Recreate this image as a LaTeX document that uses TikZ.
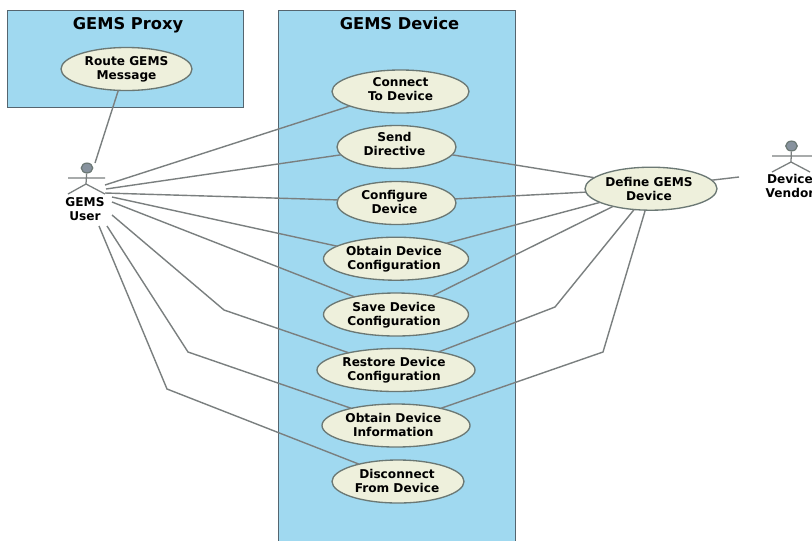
\documentclass[tikz,border=0pt]{standalone}
\usepackage{fontspec}
\setmainfont{DejaVu Sans}
\definecolor{boxfill}{HTML}{A0D9F0}
\definecolor{boxline}{HTML}{55656F}
\definecolor{ellfill}{HTML}{EEF0DC}
\definecolor{ellline}{HTML}{6B7874}
\definecolor{conn}{HTML}{7A7F7F}
\definecolor{head}{HTML}{87929E}
\usetikzlibrary{shapes.geometric}
\tikzset{
  pkg/.style={draw=boxline,fill=boxfill,line width=0.9pt},
  usecase/.style={draw=ellline,fill=ellfill,line width=1pt,ellipse,inner sep=-6pt,outer sep=0pt,
    font=\bfseries\fontsize{9.1}{10.4}\selectfont,text=black},
  title/.style={font=\bfseries\fontsize{12.2}{14}\selectfont,text=black,anchor=base},
  actorlabel/.style={font=\bfseries\fontsize{9.1}{10.4}\selectfont,align=center,text=black},
  link/.style={draw=conn,line width=1.05pt},
  stick/.style={draw=conn,line width=0.95pt},
  actorhead/.style={ellipse,draw=ellline,fill=head,minimum width=8.6pt,minimum height=7.4pt,inner sep=0pt,line width=0.9pt}
}
% name, x, y, rx, ry, text, right padding (moves the text left), bottom padding (moves it up)
\newcommand{\uc}[8]{\node[usecase,minimum width=#4*1.5pt,minimum height=#5*1.5pt] (#1) at (#2,#3)
  {\begin{tabular}{@{}c@{\kern#7}}#6\\[#8]\end{tabular}};}
\begin{document}
\begin{tikzpicture}[x=0.75pt,y=-0.75pt]
\useasboundingbox (0,0) rectangle (812,540);
\clip (0,0) rectangle (812,540);
\fill[white] (0,0) rectangle (812,540);
\node[pkg,minimum width=177pt,minimum height=72.75pt,inner sep=0pt,anchor=north west] (proxy) at (7,10) {};
\node[pkg,minimum width=177.75pt,minimum height=400pt,inner sep=0pt,anchor=north west] (device) at (278,10) {};
\node[title] (proxyT) at (128,29) {GEMS Proxy};
\node[title] (deviceT) at (399.5,29) {GEMS Device};

\uc{route}{126.5}{69}{65.5}{21.5}{Route GEMS\\Message}{0pt}{-1.5pt}
\uc{connect}{400.5}{91.5}{68.5}{21.5}{Connect\\To Device}{0pt}{1.5pt}
\uc{send}{396.5}{147}{59.5}{21.5}{Send\\Directive}{3pt}{1.5pt}
\uc{config}{396.5}{203}{59.5}{21.5}{Configure\\Device}{3pt}{-1.5pt}
\uc{obtainc}{396}{258.7}{72.5}{21.5}{Obtain Device\\Configuration}{3pt}{-1.5pt}
\uc{save}{396}{314.5}{72.5}{21.5}{Save Device\\Configuration}{3pt}{-1.5pt}
\uc{restore}{396}{370}{79}{21.5}{Restore Device\\Configuration}{3pt}{-1.5pt}
\uc{obtaini}{396}{425.5}{74}{21.5}{Obtain Device\\Information}{4pt}{-1.5pt}
\uc{disc}{398}{481.5}{66}{21.5}{Disconnect\\From Device}{1.5pt}{-1.5pt}
\uc{define}{651}{188.7}{66}{21.5}{Define GEMS\\Device}{3pt}{-3pt}

% GEMS User actor
\node[actorhead] (uhead) at (87,168) {};
\coordinate (uarmL) at (68,178); \coordinate (uarmR) at (105,178);
\coordinate (uhip) at (86,184); \coordinate (ulegL) at (68,194); \coordinate (ulegR) at (105,194);
\draw[stick] (uhead) -- (uhip) (uarmL) -- (uarmR) (ulegL) -- (uhip) -- (ulegR);
\node[actorlabel] (ulabel) at (85,209) {GEMS\\User};

% Device Vendor actor
\node[actorhead] (vhead) at (791.5,146) {};
\coordinate (varmL) at (772,156); \coordinate (varmR) at (812,156);
\coordinate (vhip) at (791,162); \coordinate (vlegL) at (772,172); \coordinate (vlegR) at (810,172);
\draw[stick] (vhead) -- (vhip) (varmL) -- (varmR) (vlegL) -- (vhip) -- (vlegR);
\node[actorlabel] (vlabel) at (790,186) {Device\\Vendor};

% free ends near the actors
\coordinate (a0) at (95,163);
\coordinate (a1) at (105,185);
\coordinate (a2) at (106,189);
\coordinate (a3) at (105,193);
\coordinate (a4) at (112,197);
\coordinate (a5) at (112,202);
\coordinate (a6) at (112,215);
\coordinate (a7) at (107,226);
\coordinate (a8) at (99,226);
\coordinate (v0) at (739,177);
% bends
\coordinate (b6) at (224,310);
\coordinate (b7) at (188,352);
\coordinate (b8) at (167,389);
\coordinate (c6) at (555,307);
\coordinate (c7) at (603,352);

\draw[link] (a0) -- (route.249);
\draw[link] (a1) -- (connect.196.7);
\draw[link] (a2) -- (send.188);
\draw[link] (a3) -- (config.177);
\draw[link] (a4) -- (obtainc.168);
\draw[link] (a5) -- (save.157);
\draw[link] (a6) -- (b6) -- (restore.160);
\draw[link] (a7) -- (b7) -- (obtaini.159);
\draw[link] (a8) -- (b8) -- (disc.156);

\draw[link] (send.-8) -- (define.169);
\draw[link] (config.4) -- (define.183);
\draw[link] (obtainc.17) -- (define.195);
\draw[link] (save.27) -- (define.205);
\draw[link] (restore.23) -- (c6) -- (define.231);
\draw[link] (obtaini.21) -- (c7) -- (define.255);
\draw[link] (define.8) -- (v0);
\end{tikzpicture}
\end{document}
